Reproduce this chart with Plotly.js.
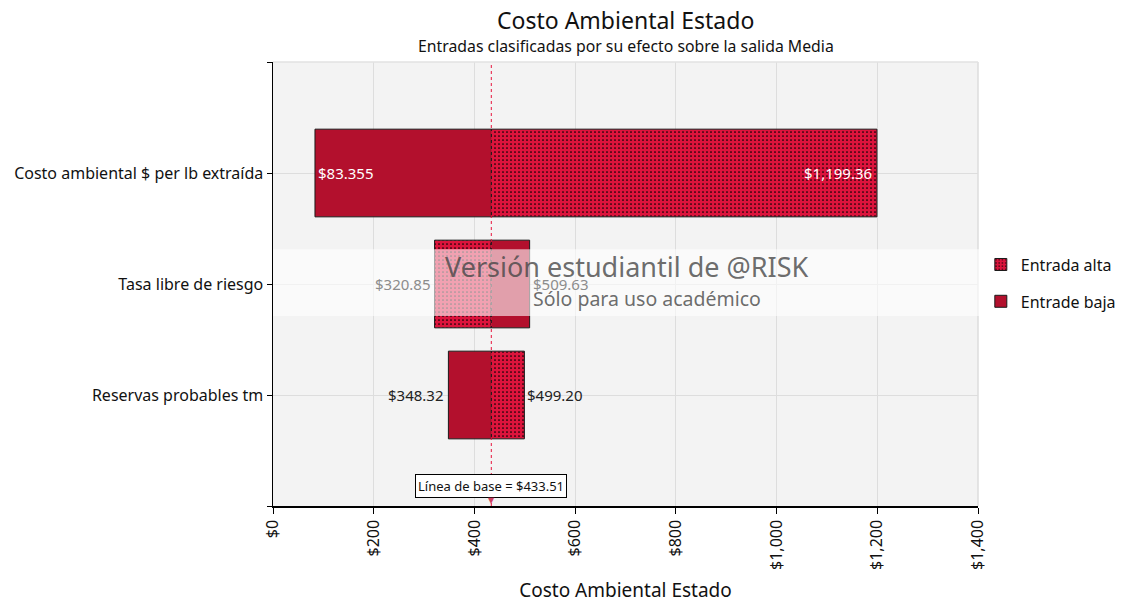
<!DOCTYPE html>
<html>
<head>
<meta charset="utf-8">
<script src="https://cdn.plot.ly/plotly-3.0.1.min.js"></script>
<style>html,body{margin:0;padding:0;background:#fff;}#chart{width:1126px;height:603px;}</style>
</head>
<body>
<div id="chart"></div>
<script>
const categories = ["Costo ambiental $ per lb extraída", "Tasa libre de riesgo", "Reservas probables tm"];
const altaValues = [1199.36, 320.85, 499.20];
const bajaValues = [83.355, 509.63, 348.32];
const altaLabels = ["$1,199.36", "$320.85", "$499.20"];
const bajaLabels = ["$83.355", "$509.63", "$348.32"];
const baseline = 433.51;
const baselineLabel = "Línea de base = $433.51";
const xTickVals = [0, 200, 400, 600, 800, 1000, 1200, 1400];
const xTickText = ["$0", "$200", "$400", "$600", "$800", "$1,000", "$1,200", "$1,400"];

const yPos = categories.map((c, i) => i);
const FONT = "Noto Sans, DejaVu Sans, sans-serif";

function barTrace(name, vals, style) {
  return Object.assign({
    type: "bar",
    orientation: "h",
    name: name,
    legendgroup: name,
    y: yPos,
    base: vals.map(v => Math.min(v, baseline)),
    x: vals.map(v => Math.abs(v - baseline)),
    width: 0.79,
    hoverinfo: "skip"
  }, style);
}

const traces = [
  barTrace("Entrada alta", altaValues, {
    marker: {
      color: "#dc143c",
      line: {color: "#1a1a1a", width: 1},
      pattern: {shape: ".", fgcolor: "#000000", bgcolor: "#dc143c", size: 4, solidity: 0.14, fillmode: "replace"}
    }
  }),
  barTrace("Entrade baja", bajaValues, {
    marker: {color: "#b3102d", line: {color: "#1a1a1a", width: 1}}
  })
];

const annotations = [];
function addLabel(v, txt, i) {
  const inside = i === 0;
  const left = v < baseline;
  let xanchor, xshift, color;
  if (inside) {
    xanchor = left ? "left" : "right";
    xshift = left ? 1 : -3;
    color = "#ffffff";
  } else {
    xanchor = left ? "right" : "left";
    xshift = left ? -2 : 1;
    color = i === 1 ? "#8c8c8c" : "#222222";
  }
  annotations.push({x: v, y: i, xref: "x", yref: "y", text: txt, showarrow: false,
    xanchor: xanchor, xshift: xshift, font: {family: FONT, size: 15, color: color}});
}
categories.forEach((c, i) => {
  addLabel(altaValues[i], altaLabels[i], i);
  addLabel(bajaValues[i], bajaLabels[i], i);
});

// baseline box
annotations.push({x: baseline, y: 0, xref: "x", yref: "paper", yanchor: "bottom", yshift: 8,
  text: baselineLabel, showarrow: false, bgcolor: "#ffffff", bordercolor: "#000000", borderwidth: 1,
  borderpad: 2, font: {family: FONT, size: 13, color: "#111"}});
annotations.push({x: baseline, y: 0, xref: "x", yref: "paper", yanchor: "bottom", yshift: -1,
  text: "▼", showarrow: false, font: {family: FONT, size: 8, color: "#d04060"}});

// watermark
annotations.push({x: 0.502, y: 0.539, xref: "paper", yref: "paper", text: "Versión estudiantil de @RISK",
  showarrow: false, font: {family: FONT, size: 27, color: "rgba(70,70,70,0.8)"}});
annotations.push({x: 0.53, y: 0.467, xref: "paper", yref: "paper", text: "Sólo para uso académico",
  showarrow: false, font: {family: FONT, size: 19.5, color: "rgba(70,70,70,0.8)"}});

// title + subtitle
annotations.push({x: 0.5007, y: 1, xref: "paper", yref: "paper", yanchor: "middle", yshift: 42,
  text: "Costo Ambiental Estado", showarrow: false, font: {family: FONT, size: 23, color: "#111"}});
annotations.push({x: 0.5007, y: 1, xref: "paper", yref: "paper", yanchor: "middle", yshift: 16,
  text: "Entradas clasificadas por su efecto sobre la salida Media", showarrow: false,
  font: {family: FONT, size: 15.8, color: "#111"}});

const layout = {
  width: 1126,
  height: 603,
  margin: {l: 273, r: 148, t: 62, b: 97, autoexpand: false},
  paper_bgcolor: "#ffffff",
  plot_bgcolor: "#f3f3f3",
  font: {family: FONT, size: 16, color: "#111"},
  barmode: "overlay",
  bargap: 0,
  showlegend: true,
  legend: {
    x: 1.004, y: 0.582, xanchor: "left", yanchor: "top",
    font: {family: FONT, size: 16, color: "#111"},
    bgcolor: "rgba(0,0,0,0)", traceorder: "grouped", tracegroupgap: 13
  },
  xaxis: {
    range: [0, 1400],
    tickvals: xTickVals,
    ticktext: xTickText,
    tickangle: -90,
    ticks: "outside", ticklen: 6, tickcolor: "#000",
    showline: true, linecolor: "#000", linewidth: 1.5,
    showgrid: true, gridcolor: "#dddddd", gridwidth: 1,
    zeroline: false, mirror: false,
    tickfont: {family: FONT, size: 16, color: "#111"},
    title: {text: "Costo Ambiental Estado", font: {family: FONT, size: 19, color: "#111"}, standoff: 16},
    fixedrange: true
  },
  yaxis: {
    range: [3, -1],
    tickvals: [-1].concat(yPos).concat([3]),
    ticktext: [""].concat(categories).concat([""]),
    ticks: "outside", ticklen: 5, tickcolor: "#000",
    showline: true, linecolor: "#000", linewidth: 1.5,
    showgrid: true, gridcolor: "#dddddd",
    zeroline: false,
    tickfont: {family: FONT, size: 16, color: "#111"},
    fixedrange: true
  },
  shapes: [
    {type: "line", xref: "paper", yref: "paper", x0: 1, x1: 1, y0: 0, y1: 1, line: {color: "#dddddd", width: 1.5}},
    {type: "line", xref: "paper", yref: "paper", x0: 0, x1: 1, y0: 1, y1: 1, line: {color: "#e2e2e2", width: 1.5}},
    {type: "line", xref: "x", yref: "paper", x0: baseline, x1: baseline, y0: 0, y1: 1,
      line: {color: "#e8143c", width: 1, dash: "dot"}, layer: "above"},
    {type: "rect", xref: "paper", yref: "paper", x0: 0, x1: 1.005, y0: 0.428, y1: 0.578,
      fillcolor: "rgba(255,255,255,0.6)", line: {width: 0}, layer: "above"}
  ],
  annotations: annotations
};

Plotly.newPlot("chart", traces, layout, {displayModeBar: false, staticPlot: true});
</script>
</body>
</html>
